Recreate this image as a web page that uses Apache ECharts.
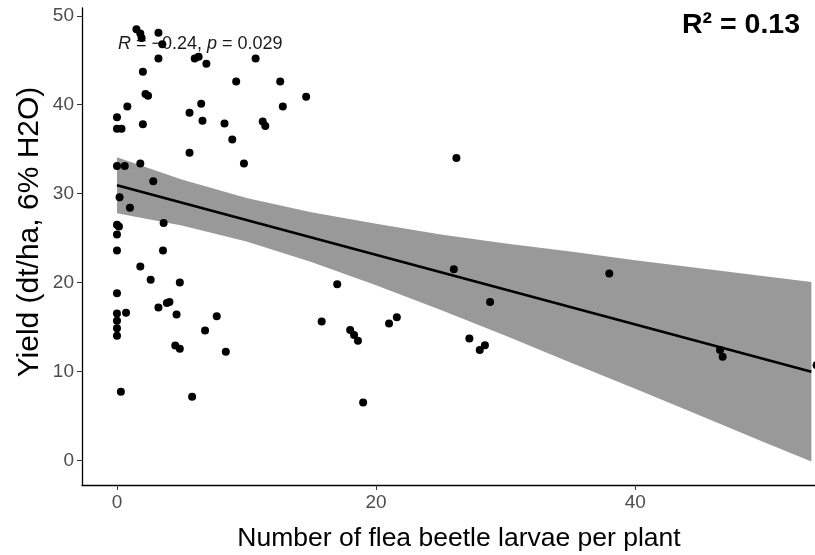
<!DOCTYPE html>
<html>
<head>
<meta charset="utf-8">
<script src="https://cdn.jsdelivr.net/npm/echarts@6/dist/echarts.min.js"></script>
<style>
  html, body { margin: 0; padding: 0; background: #fff; }
  #chart { width: 815px; height: 555px; }
</style>
</head>
<body>
<div id="chart"></div>
<script>
// observed points: larvae per plant vs yield
const larvae = [
  1.5, 1.8, 1.9, 3.2, 3.5, 3.2, 2.0, 2.2, 2.4, 0.8,
  0, 0, 0.35, 2.0, 6.0, 6.3, 6.9, 6.5, 5.6, 6.6,
  10.7, 9.2, 12.6, 14.6, 12.8, 8.3, 11.25, 11.45, 8.9, 9.8,
  5.6, 0, 0.6, 1.8, 2.8, 0.2, 1.0, 3.6, 0, 0.15,
  0, 0, 3.55, 1.8, 2.6, 4.85, 0, 3.2, 3.85, 4.05,
  4.6, 0, 0.7, 0, 0, 0, 7.7, 6.8, 4.5, 4.85,
  0.3, 5.8, 8.4, 15.8, 17.0, 18.0, 18.3, 18.6, 26.2, 26.0,
  28.8, 21.0, 21.6, 19.0, 27.2, 28.0, 28.4, 38.0, 46.55, 46.75,
  54.0
];
const yieldVals = [
  48.5, 48.0, 47.5, 48.1, 46.8, 45.2, 43.7, 41.2, 41.0, 39.8,
  38.6, 37.3, 37.3, 37.8, 45.2, 45.4, 44.6, 40.1, 39.1, 38.2,
  45.2, 42.6, 42.6, 40.9, 39.8, 37.9, 38.1, 37.6, 36.1, 33.4,
  34.6, 33.1, 33.1, 33.4, 31.4, 29.6, 28.4, 26.7, 26.5, 26.3,
  25.4, 23.6, 23.6, 21.8, 20.3, 20.0, 18.8, 17.2, 17.7, 17.8,
  16.4, 16.5, 16.6, 15.7, 14.85, 14.0, 16.2, 14.6, 12.9, 12.55,
  7.7, 7.15, 12.2, 15.6, 19.8, 14.65, 14.1, 13.45, 34.0, 21.5,
  17.8, 15.4, 16.1, 6.5, 13.7, 12.4, 12.95, 21.0, 12.4, 11.65,
  10.7
];

// fitted line and its confidence band
const fitX = [0, 53.6];
const fitY = [30.95, 9.96];
const bandX = [0, 5, 10, 15, 20, 25, 30, 35, 40, 45, 50, 53.6];
const bandLow = [27.8, 26.4, 24.6, 22.3, 19.7, 16.9, 14.0, 11.0, 8.05, 5.05, 2.0, -0.14];
const bandHigh = [34.1, 31.6, 29.5, 27.9, 26.6, 25.4, 24.4, 23.5, 22.5, 21.6, 20.7, 20.06];

const xTicks = [0, 20, 40];
const yTicks = [0, 10, 20, 30, 40, 50];

const FONT = "'Liberation Sans', Arial, sans-serif";

const chart = echarts.init(document.getElementById('chart'));

const points = larvae.map((x, i) => [x, yieldVals[i]]);

const option = {
  animation: false,
  backgroundColor: '#fff',
  textStyle: { fontFamily: FONT },
  grid: { left: 82, right: -21, top: 8, bottom: 70, outerBoundsMode: 'none' },
  xAxis: {
    type: 'value',
    min: -2.7,
    max: 55.5,
    name: 'Number of flea beetle larvae per plant',
    nameLocation: 'middle',
    nameGap: 40,
    nameTextStyle: { fontSize: 26.5, color: '#000', fontFamily: FONT },
    axisLine: { show: true, onZero: false, lineStyle: { color: '#000', width: 1.3 } },
    axisTick: { show: true, length: 5, customValues: xTicks, lineStyle: { color: '#333' } },
    axisLabel: { customValues: xTicks, color: '#4d4d4d', fontSize: 19, margin: 8, fontFamily: FONT },
    splitLine: { show: false }
  },
  yAxis: {
    type: 'value',
    min: -2.78,
    max: 50.88,
    axisLine: { show: true, onZero: false, lineStyle: { color: '#000', width: 1.3 } },
    axisTick: { show: true, length: 5, customValues: yTicks, lineStyle: { color: '#333' } },
    axisLabel: { customValues: yTicks, color: '#4d4d4d', fontSize: 19, margin: 8, fontFamily: FONT },
    splitLine: { show: false }
  },
  graphic: [
    {
      type: 'text',
      x: 30,
      y: 232,
      rotation: Math.PI / 2,
      z: 10,
      style: {
        text: 'Yield (dt/ha, 6% H2O)',
        font: '30px ' + FONT,
        fill: '#000',
        align: 'center',
        verticalAlign: 'middle'
      }
    },
    {
      type: 'text',
      x: 118,
      y: 44,
      z: 0,
      style: {
        text: '{i|R} = \u22120.24, {i|p} = 0.029',
        font: '18px ' + FONT,
        fill: '#1a1a1a',
        verticalAlign: 'middle',
        rich: { i: { fontStyle: 'italic', fontSize: 18, fontFamily: FONT, fill: '#1a1a1a' } }
      }
    },
    {
      type: 'text',
      x: 800,
      y: 25,
      z: 10,
      style: {
        text: 'R\u00b2 = 0.13',
        font: 'bold 28.5px ' + FONT,
        fill: '#000',
        align: 'right',
        verticalAlign: 'middle'
      }
    }
  ],
  series: [
    {
      type: 'custom',
      z: 1,
      data: [[bandX[0], bandLow[0]]],
      renderItem: function (params, api) {
        const pts = [];
        for (let i = 0; i < bandX.length; i++) pts.push(api.coord([bandX[i], bandHigh[i]]));
        for (let i = bandX.length - 1; i >= 0; i--) pts.push(api.coord([bandX[i], bandLow[i]]));
        return { type: 'polygon', shape: { points: pts }, style: { fill: '#999999' } };
      }
    },
    {
      type: 'line',
      z: 2,
      data: fitX.map((x, i) => [x, fitY[i]]),
      symbol: 'none',
      lineStyle: { color: '#000', width: 2.6 }
    },
    {
      type: 'scatter',
      z: 3,
      data: points,
      symbolSize: 8,
      itemStyle: { color: '#000', opacity: 1 }
    }
  ]
};

chart.setOption(option);
</script>
</body>
</html>
